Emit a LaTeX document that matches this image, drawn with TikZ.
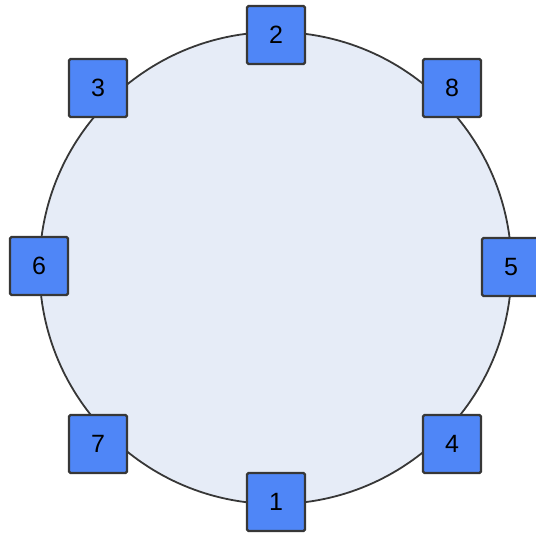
\documentclass[tikz,border=0pt]{standalone}
\usepackage{fontspec}
\setmainfont{Liberation Sans}
\usetikzlibrary{shadows}
\definecolor{ringfill}{RGB}{230,236,247}
\definecolor{boxfill}{RGB}{79,134,247}
\definecolor{edgegray}{RGB}{55,55,55}
\tikzset{
  port/.style={draw=edgegray, line width=2.4pt, fill=boxfill, minimum size=58pt,
    inner sep=0pt, rounded corners=1.5pt, font=\fontsize{25}{28}\selectfont,
    drop shadow={shadow xshift=0.8pt, shadow yshift=-0.8pt, opacity=0.35}},
  ring/.style={draw=edgegray, line width=1.8pt, fill=ringfill}
}
\begin{document}
\begin{tikzpicture}[x=1pt,y=-1pt]
\useasboundingbox (0,0) rectangle (536,535);
\node[ring, circle, minimum size=472pt, inner sep=0pt] (c) at (275.5,268) {};
\node[port] (n2) at (276,35) {2};
\node[port] (n8) at (452,88) {8};
\node[port] (n5) at (511,267) {5};
\node[port] (n4) at (452,444) {4};
\node[port] (n1) at (276,502) {1};
\node[port] (n7) at (98,444) {7};
\node[port] (n6) at (39,266) {6};
\node[port] (n3) at (98,88) {3};
\end{tikzpicture}
\end{document}
